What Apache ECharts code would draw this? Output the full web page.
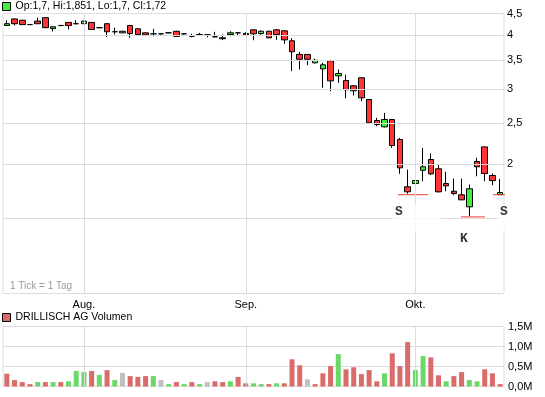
<!DOCTYPE html>
<html>
<head>
<meta charset="UTF-8">
<title>DRILLISCH AG</title>
<script src="https://cdn.jsdelivr.net/npm/echarts@6/dist/echarts.min.js"></script>
<style>
*{margin:0;padding:0}
html,body{width:100%;height:100%;background:#fff}
#main{width:545px;height:397px}
</style>
</head>
<body>
<div id="main"></div>
<script type="text/javascript">
// Handelstage 18.07.2008 - 16.10.2008
var dates = [
    '2008-07-18','2008-07-21','2008-07-22','2008-07-23','2008-07-24','2008-07-25','2008-07-28','2008-07-29','2008-07-30','2008-07-31',
    '2008-08-01','2008-08-04','2008-08-05','2008-08-06','2008-08-07','2008-08-08','2008-08-11','2008-08-12','2008-08-13','2008-08-14',
    '2008-08-15','2008-08-18','2008-08-19','2008-08-20','2008-08-21','2008-08-22','2008-08-25','2008-08-26','2008-08-27','2008-08-28',
    '2008-08-29','2008-09-01','2008-09-02','2008-09-03','2008-09-04','2008-09-05','2008-09-08','2008-09-09','2008-09-10','2008-09-11',
    '2008-09-12','2008-09-15','2008-09-16','2008-09-17','2008-09-18','2008-09-19','2008-09-22','2008-09-23','2008-09-24','2008-09-25',
    '2008-09-26','2008-09-29','2008-09-30','2008-10-01','2008-10-02','2008-10-03','2008-10-06','2008-10-07','2008-10-08','2008-10-09',
    '2008-10-10','2008-10-13','2008-10-14','2008-10-15','2008-10-16'
];
var openP = [
    4.22,4.37,4.34,4.24,4.32,4.40,4.15,4.22,4.29,4.26,
    4.26,4.29,4.17,4.26,4.08,4.056,4.22,4.145,4.056,4.035,
    4.035,4.056,4.09,4.035,3.983,4.02,4.013,3.97,3.95,4.02,
    4.056,4.04,4.122,4.041,4.091,4.122,4.10,3.886,3.611,3.611,
    3.453,3.343,3.49,3.22,3.14,3.051,3.186,2.835,2.533,2.448,
    2.546,2.287,1.774,1.805,1.939,2.054,1.954,1.805,1.732,1.699,
    1.593,2.032,2.198,1.885,1.70
];
var closeP = [
    4.26,4.26,4.24,4.24,4.26,4.17,4.19,4.22,4.22,4.26,
    4.32,4.13,4.17,4.08,4.08,4.09,4.04,4.02,4.013,4.035,
    4.035,4.056,3.98,4.035,3.983,4.02,4.013,3.97,3.93,4.056,
    4.056,4.013,4.035,4.091,3.949,4.02,3.906,3.664,3.52,3.52,
    3.50,3.416,3.134,3.26,2.987,2.971,2.861,2.502,2.479,2.546,
    2.214,1.964,1.727,1.834,1.975,1.902,1.727,1.783,1.711,1.654,
    1.755,1.975,1.905,1.834,1.72
];
var lowP = [
    4.21,4.22,4.23,4.23,4.25,4.16,4.085,4.20,4.13,4.25,
    4.25,4.12,4.16,3.97,4.02,4.05,3.95,4.01,4.00,3.98,
    4.02,4.05,3.97,4.02,3.96,4.00,3.96,3.96,3.90,3.983,
    4.01,3.99,3.898,4.013,3.94,3.906,3.823,3.301,3.331,3.408,
    3.44,3.018,2.964,3.101,2.855,2.897,2.81,2.49,2.456,2.44,
    2.187,1.902,1.71,1.80,1.828,1.89,1.72,1.732,1.695,1.65,
    1.514,1.877,1.828,1.789,1.70
];
var highP = [
    4.34,4.38,4.35,4.25,4.40,4.41,4.20,4.23,4.30,4.34,
    4.33,4.30,4.18,4.27,4.17,4.10,4.23,4.15,4.06,4.145,
    4.04,4.06,4.10,4.04,4.035,4.056,4.02,4.078,4.02,4.09,
    4.06,4.07,4.13,4.11,4.10,4.13,4.11,3.94,3.664,3.62,
    3.53,3.453,3.51,3.331,3.237,3.06,3.19,2.84,2.569,2.639,
    2.55,2.307,1.946,1.895,2.187,2.121,2.00,1.922,1.854,1.854,
    1.796,2.073,2.20,1.905,1.851
];
// Volumen in Mio. Stück, Farbe: r = fallend, g = steigend, n = unverändert
var volumes = [
    0.32,0.16,0.11,0.06,0.11,0.11,0.11,0.11,0.13,0.39,
    0.36,0.39,0.29,0.41,0.16,0.34,0.26,0.24,0.26,0.26,
    0.16,0.06,0.11,0.06,0.11,0.06,0.11,0.13,0.11,0.13,
    0.24,0.08,0.08,0.06,0.06,0.08,0.08,0.68,0.53,0.18,
    0.06,0.33,0.51,0.81,0.43,0.48,0.31,0.41,0.13,0.33,
    0.83,0.51,1.11,0.41,0.76,0.73,0.28,0.13,0.26,0.36,
    0.16,0.13,0.43,0.33,0.06
];
var volDir = [
    'r','r','r','r','g','r','g','r','g','g',
    'g','r','g','r','g','n','r','r','r','g',
    'n','g','r','g','r','g','n','r','r','g',
    'r','r','g','g','r','g','r','r','r','n',
    'r','r','r','g','r','r','r','r','r','g',
    'r','r','r','g','g','r','r','g','r','r',
    'g','g','r','r','r'
];
var priceLevels = [1.5, 2, 2.5, 3, 3.5, 4, 4.5];
var hiddenLevels = [1.5];   // Beschriftung von der S-Marke verdeckt
var monthStarts = ['2008-08-01', '2008-09-01', '2008-10-01'];
var monthNames = {'08': 'Aug.', '09': 'Sep.', '10': 'Okt.'};
// Unterstützung / Widerstand: [von, bis, Kurs]
var supportLines = [[50.75, 54.64, 1.70], [58.92, 62.03, 1.509], [63.07, 66.44, 1.70]];
// Markierungen: [x, Kurs, Text, Hintergrund] (linke obere Ecke)
var marks = [[50.1, 1.613, 'S', true], [58.53, 1.395, 'K', false], [63.72, 1.613, 'S', true]];

var colUp = '#3cf03c', colDown = '#ff3535';
var volColors = {r: '#d96b6b', g: '#6ad96a', n: '#c0c0c0'};
var gridCol = '#dcdcdc';
var font = 'Liberation Sans, Arial, sans-serif';

function fmt(v) { return String(v).replace('.', ','); }

var candles = dates.map(function (d, i) {
    return [openP[i], closeP[i], lowP[i], highP[i]];
});
var volData = volumes.map(function (v, i) {
    return {value: v, itemStyle: {color: volColors[volDir[i]]}};
});
var last = dates.length - 1;
var ohlcText = 'Op:' + fmt(openP[last]) + ', Hi:' + fmt(highP[last]) +
    ', Lo:' + fmt(lowP[last]) + ', Cl:' + fmt(closeP[last]);

var myChart = echarts.init(document.getElementById('main'));

var supportSeries = supportLines.map(function (s) {
    return {
        type: 'line', xAxisIndex: 2, yAxisIndex: 0, silent: true, clip: false,
        symbol: 'none', z: 3,
        lineStyle: {color: '#e83a3a', width: 1},
        data: [[s[0], s[2]], [s[1], s[2]]]
    };
});

option = {
    animation: false,
    legend: [{
        left: 2, top: 1, padding: 0, icon: 'rect', itemWidth: 8, itemHeight: 8,
        selectedMode: false, data: ['DRILLISCH AG'],
        formatter: function () { return ohlcText; },
        itemStyle: {borderColor: '#000', borderWidth: 1},
        textStyle: {fontFamily: font, fontSize: 10.5, color: '#000'}
    }, {
        left: 2, top: 312, padding: 0, icon: 'rect', itemWidth: 8, itemHeight: 8,
        selectedMode: false, data: ['DRILLISCH AG Volumen'],
        itemStyle: {color: '#d96b6b', borderColor: '#000', borderWidth: 1},
        textStyle: {fontFamily: font, fontSize: 10.5, color: '#000'}
    }],
    graphic: [{
        type: 'text', left: 10, top: 281,
        style: {text: '1 Tick = 1 Tag', fill: '#999', font: '10px Liberation Sans, Arial, sans-serif'}
    }],
    grid: [
        {left: 3, right: 41, top: 13.5, height: 280, show: true, borderColor: gridCol, borderWidth: 1},
        {left: 3, right: 41, top: 326.5, height: 60, show: true, borderColor: gridCol, borderWidth: 1}
    ],
    xAxis: [{
        type: 'category', gridIndex: 0, data: dates, boundaryGap: true,
        axisLine: {show: false}, axisTick: {show: false}, splitLine: {show: false},
        axisLabel: {
            margin: 6, color: '#000', fontFamily: font, fontSize: 11,
            interval: function (idx, val) { return monthStarts.indexOf(val) >= 0; },
            formatter: function (val) { return monthNames[val.slice(5, 7)]; }
        }
    }, {
        type: 'category', gridIndex: 1, data: dates, boundaryGap: true,
        axisLine: {show: false}, axisTick: {show: false}, axisLabel: {show: false}, splitLine: {show: false}
    }, {
        type: 'value', gridIndex: 0, min: -0.5, max: dates.length - 0.5, show: false
    }],
    yAxis: [{
        type: 'log', logBase: 10, gridIndex: 0, min: 1, max: 4.5, position: 'right',
        axisLine: {show: false}, axisTick: {show: false}, axisLabel: {show: false}, splitLine: {show: false}
    }, {
        type: 'value', gridIndex: 1, min: 0, max: 1.5, interval: 0.5, position: 'right',
        axisLine: {show: false}, axisTick: {show: false},
        splitLine: {lineStyle: {color: gridCol, width: 1}},
        axisLabel: {
            margin: 4, color: '#000', fontFamily: font, fontSize: 11,
            formatter: function (v) { return v.toFixed(1).replace('.', ',') + 'M'; }
        }
    }],
    series: [{
        // Gitternetz Kurschart
        type: 'line', xAxisIndex: 0, yAxisIndex: 0, data: [], z: 0, silent: true,
        markLine: {
            silent: true, symbol: ['none', 'none'], animation: false,
            lineStyle: {type: 'solid', color: gridCol, width: 1},
            emphasis: {disabled: true},
            data: priceLevels.map(function (p) {
                return {yAxis: p, label: {show: hiddenLevels.indexOf(p) < 0, position: 'end', distance: 3,
                    color: '#000', fontFamily: font, fontSize: 11,
                    formatter: function () { return fmt(p); }}};
            }).concat(monthStarts.map(function (m) {
                return {xAxis: m, label: {show: false}};
            }))
        }
    }, {
        // Gitternetz Volumen
        type: 'line', xAxisIndex: 1, yAxisIndex: 1, data: [], z: 0, silent: true,
        markLine: {
            silent: true, symbol: ['none', 'none'], animation: false,
            lineStyle: {type: 'solid', color: gridCol, width: 1},
            label: {show: false},
            emphasis: {disabled: true},
            data: monthStarts.map(function (m) { return {xAxis: m}; })
        }
    }, {
        name: 'DRILLISCH AG',
        type: 'candlestick', xAxisIndex: 0, yAxisIndex: 0, barWidth: 6, z: 2,
        itemStyle: {
            color: colUp, color0: colDown,
            borderColor: '#000', borderColor0: '#000', borderColorDoji: '#000', borderWidth: 1
        },
        data: candles
    }, {
        name: 'DRILLISCH AG Volumen',
        type: 'bar', xAxisIndex: 1, yAxisIndex: 1, barWidth: 5,
        itemStyle: {color: '#d96b6b'},
        data: volData
    }].concat(supportSeries).concat([{
        type: 'scatter', xAxisIndex: 2, yAxisIndex: 0, symbolSize: 0, z: 5, silent: true,
        data: marks.map(function (m) {
            return {value: [m[0], m[1]], name: m[2],
                label: {backgroundColor: m[3] ? '#fff' : 'transparent'}};
        }),
        label: {
            show: true, position: [0, 0], align: 'left', verticalAlign: 'top',
            formatter: '{b}', color: '#000',
            fontFamily: 'Liberation Mono, Courier New, monospace', fontWeight: 'bold', fontSize: 13,
            lineHeight: 15, padding: [0, 38, 12, 2]
        }
    }])
};
myChart.setOption(option);
</script>
</body>
</html>
